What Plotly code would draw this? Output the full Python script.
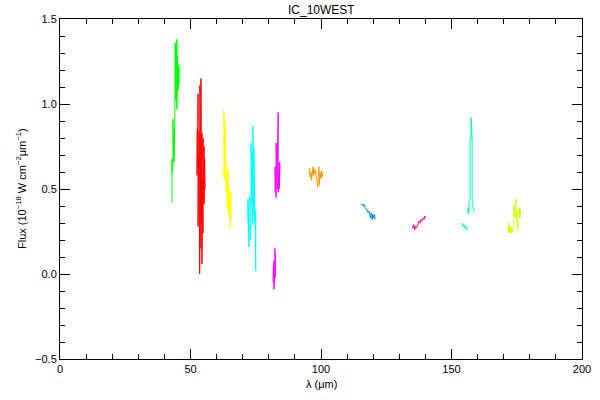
import plotly.graph_objects as go

# ---- data (wavelength in micron, flux in 1e-18 W cm^-2 um^-1) ----
green_x = [42.9,42.9,43.0,43.3,43.3,43.5,43.7,43.7,44.0,44.1,44.1,44.3,44.4,44.4,44.6,44.8,44.8,45.0,45.2,45.2,45.4,45.6,45.6]
green_y = [0.42,0.68,0.60,0.63,0.91,0.70,0.84,0.66,0.90,1.36,0.95,1.30,1.02,1.35,1.05,1.38,0.97,1.28,1.08,1.24,1.10,1.22,1.12]

red_x = [52.5,52.5,52.7,52.9,52.9,53.1,53.3,53.3,53.5,53.6,53.6,53.8,54.0,54.0,54.2,54.4,54.4,54.6,54.8,54.8,55.0,55.2,55.2,55.4,55.6]
red_y = [0.85,0.58,0.75,1.06,0.28,0.70,0.62,0.84,0.00,0.10,1.11,0.60,0.15,1.15,0.30,0.83,0.06,0.55,0.24,0.80,0.45,0.75,0.41,0.68,0.50]

yellow_x = [62.5,62.5,62.8,62.8,63.2,63.2,63.6,63.6,64.0,64.0,64.4,64.4,64.8,64.8,65.1,65.1,65.5,65.5]
yellow_y = [0.57,0.61,0.62,0.96,0.55,0.91,0.64,0.48,0.60,0.40,0.62,0.36,0.52,0.34,0.45,0.27,0.48,0.32]

cyan_x = [72.0,72.0,72.4,72.4,72.8,72.8,73.2,73.2,73.6,73.6,73.9,73.9,74.3,74.3,74.7,74.7,75.0,75.0]
cyan_y = [0.30,0.44,0.16,0.42,0.46,0.20,0.30,0.77,0.40,0.72,0.29,0.87,0.35,0.74,0.30,0.38,0.02,0.36]

magenta_hi_x = [82.4,82.4,82.8,82.8,83.2,83.2,83.6,83.6,84.0,84.0,84.3]
magenta_hi_y = [0.48,0.63,0.45,0.77,0.50,0.60,0.95,0.48,0.66,0.50,0.65]

magenta_lo_x = [81.7,81.7,82.0,82.0,82.3,82.3,82.6,82.6]
magenta_lo_y = [0.05,-0.05,0.08,-0.09,0.00,0.15,0.10,-0.02]

orange_x = [95.4,95.6,95.8,96.2,96.4,96.6,96.9,97.1,97.3,97.7,97.9,98.1,98.5,98.7,98.9,99.2,99.4,99.6,100.0,100.2,100.4,100.8]
orange_y = [0.59,0.62,0.57,0.60,0.55,0.61,0.63,0.58,0.62,0.59,0.61,0.57,0.55,0.51,0.58,0.63,0.52,0.60,0.56,0.61,0.57,0.60]

blue_x = [115.3,115.7,116.1,116.5,116.9,117.2,117.6,118.0,118.4,118.7,119.0,119.3,119.6,119.9,120.2,120.5,120.7]
blue_y = [0.41,0.41,0.40,0.41,0.39,0.38,0.38,0.36,0.37,0.35,0.33,0.36,0.32,0.35,0.33,0.35,0.32]

pink_x = [134.9,135.2,135.6,135.9,136.2,136.5,136.9,137.2,137.5,137.9,138.2,138.5,138.9,139.2,139.5,139.8,140.2]
pink_y = [0.28,0.27,0.29,0.26,0.28,0.27,0.28,0.30,0.31,0.30,0.32,0.31,0.32,0.33,0.32,0.34,0.33]

spring_lo_x = [154.0,154.4,154.8,155.2,155.6,156.0,156.3]
spring_lo_y = [0.30,0.28,0.29,0.27,0.28,0.26,0.27]

spring_hi_x = [156.3,156.3,156.7,156.7,157.1,157.1,157.5,157.5,157.9,157.9,158.2,158.2,158.6,158.6]
spring_hi_y = [0.35,0.39,0.36,0.43,0.44,0.80,0.80,0.92,0.80,0.44,0.43,0.39,0.38,0.36]

lime_x = [171.6,171.8,172.0,172.2,172.4,172.6,172.8,173.0,173.2,173.5,173.9,173.9,174.3,174.3,174.7,174.7,175.1,175.1,175.5,175.5,175.9,176.2,176.6]
lime_y = [0.24,0.25,0.30,0.25,0.27,0.24,0.28,0.24,0.26,0.25,0.32,0.40,0.34,0.38,0.44,0.33,0.37,0.30,0.26,0.36,0.39,0.33,0.38]

x_ticks = [0, 50, 100, 150, 200]
y_ticks = [-0.5, 0, 0.5, 1.0, 1.5]
y_ticklabels = ["\u22120.5", "0.0", "0.5", "1.0", "1.5"]

series = [
    (green_x, green_y, "#00ff00"),
    (red_x, red_y, "#ff0000"),
    (yellow_x, yellow_y, "#ffff00"),
    (cyan_x, cyan_y, "#00ffff"),
    (magenta_hi_x, magenta_hi_y, "#ff00ff"),
    (magenta_lo_x, magenta_lo_y, "#ff00ff"),
    (orange_x, orange_y, "#ff9900"),
    (blue_x, blue_y, "#0088ff"),
    (pink_x, pink_y, "#ff0099"),
    (spring_lo_x, spring_lo_y, "#00ffaa"),
    (spring_hi_x, spring_hi_y, "#00ffaa"),
    (lime_x, lime_y, "#ccff00"),
]

fig = go.Figure()
for xs, ys, col in series:
    fig.add_trace(go.Scatter(x=xs, y=ys, mode="lines",
                             line=dict(color=col, width=1),
                             showlegend=False, hoverinfo="skip"))

font = dict(family="Liberation Sans, Arial, sans-serif", size=11, color="black")
axis_common = dict(
    showgrid=False, zeroline=False, showline=True, linecolor="black", linewidth=1,
    mirror="allticks", ticks="inside", ticklen=10, tickwidth=1, tickcolor="black",
    tickfont=font, automargin=False,
)
fig.update_layout(
    width=600, height=400,
    paper_bgcolor="white", plot_bgcolor="white",
    margin=dict(l=60, r=18, t=19, b=41),
    font=font,
    xaxis=dict(range=[0, 200], tickvals=x_ticks,
               minor=dict(dtick=10, ticks="inside", ticklen=5, tickcolor="black"),
               **axis_common),
    yaxis=dict(range=[-0.5, 1.5], tickvals=y_ticks, ticktext=y_ticklabels,
               minor=dict(dtick=0.1, ticks="inside", ticklen=5, tickcolor="black"),
               **axis_common),
    annotations=[
        dict(text="IC_10WEST", xref="paper", yref="paper", x=0.5, y=1,
             yshift=9, xanchor="center", yanchor="middle", showarrow=False,
             font=dict(family=font["family"], size=12, color="black")),
        dict(text="λ (μm)", xref="paper", yref="paper", x=0.5, y=0,
             yshift=-25, xanchor="center", yanchor="middle", showarrow=False, font=font),
        dict(text="Flux (10<sup>\u221218</sup> W cm<sup>\u22122</sup>μm<sup>\u22121</sup>)",
             xref="paper", yref="paper", x=0, y=0.5, xshift=-39, textangle=-90,
             xanchor="center", yanchor="middle", showarrow=False, font=font),
    ],
)

# remove the browser's default 8px body margin so the figure sits at the page origin
fig.write_html("out.html", config={"displayModeBar": False},
               post_script="document.body.style.margin='0px';document.body.style.overflow='hidden';")
